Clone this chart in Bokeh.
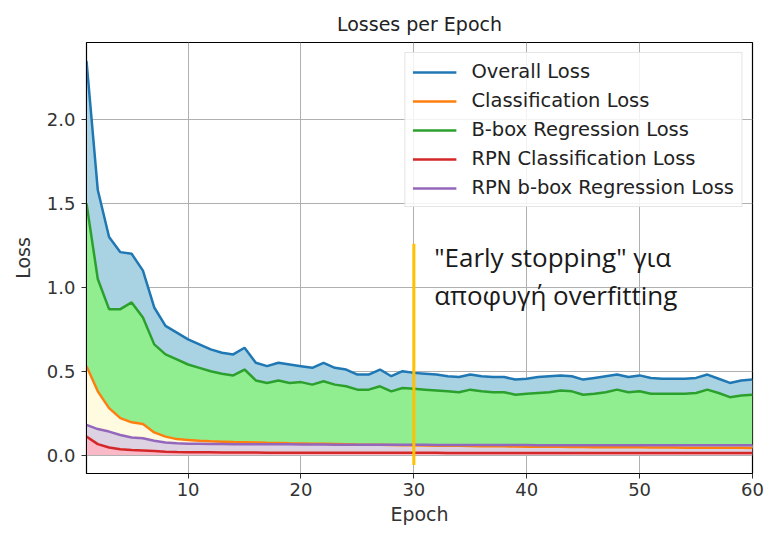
from bokeh.plotting import figure
from bokeh.models import Legend, LegendItem, Label, FixedTicker, Range1d, NumeralTickFormatter
from bokeh.embed import file_html
from bokeh.resources import INLINE

epochs = list(range(1, 61))

overall_loss = [2.35, 1.58, 1.30, 1.21, 1.20, 1.10, 0.88, 0.77, 0.73, 0.69,
                0.66, 0.63, 0.61, 0.60, 0.64, 0.55, 0.53, 0.55, 0.54, 0.53,
                0.52, 0.55, 0.52, 0.51, 0.48, 0.48, 0.51, 0.47, 0.50, 0.49,
                0.485, 0.48, 0.47, 0.465, 0.48, 0.47, 0.465, 0.465, 0.45, 0.455,
                0.465, 0.47, 0.475, 0.47, 0.45, 0.46, 0.47, 0.48, 0.465, 0.475,
                0.46, 0.455, 0.455, 0.455, 0.46, 0.48, 0.455, 0.43, 0.445, 0.45]

bbox_loss = [1.50, 1.05, 0.87, 0.87, 0.91, 0.82, 0.66, 0.60, 0.57, 0.54,
             0.52, 0.50, 0.485, 0.475, 0.51, 0.445, 0.43, 0.445, 0.43, 0.435,
             0.42, 0.44, 0.42, 0.41, 0.39, 0.39, 0.41, 0.38, 0.40, 0.395,
             0.39, 0.385, 0.38, 0.375, 0.39, 0.38, 0.375, 0.375, 0.36, 0.365,
             0.37, 0.375, 0.385, 0.38, 0.36, 0.365, 0.375, 0.39, 0.375, 0.38,
             0.365, 0.365, 0.365, 0.365, 0.37, 0.39, 0.37, 0.345, 0.355, 0.36]

cls_loss = [0.53, 0.38, 0.28, 0.22, 0.195, 0.185, 0.135, 0.11, 0.095, 0.09,
            0.085, 0.082, 0.08, 0.078, 0.077, 0.075, 0.073, 0.072, 0.07, 0.069,
            0.068, 0.067, 0.066, 0.065, 0.063, 0.062, 0.061, 0.06, 0.059, 0.058,
            0.057, 0.056, 0.055, 0.055, 0.054, 0.053, 0.052, 0.052, 0.051, 0.05,
            0.05, 0.049, 0.049, 0.048, 0.048, 0.047, 0.047, 0.046, 0.046, 0.046,
            0.045, 0.045, 0.045, 0.044, 0.044, 0.044, 0.043, 0.043, 0.043, 0.042]

rpn_cls_loss = [0.11, 0.065, 0.045, 0.035, 0.03, 0.027, 0.024, 0.02, 0.018, 0.017,
                0.016, 0.016, 0.015, 0.015, 0.015, 0.015, 0.014, 0.014, 0.014, 0.014,
                0.014, 0.014, 0.013, 0.013, 0.013, 0.013, 0.013, 0.013, 0.013, 0.013,
                0.013, 0.013, 0.012, 0.012, 0.012, 0.012, 0.012, 0.012, 0.012, 0.012,
                0.012, 0.012, 0.012, 0.012, 0.012, 0.012, 0.012, 0.012, 0.012, 0.012,
                0.012, 0.012, 0.012, 0.012, 0.012, 0.012, 0.012, 0.012, 0.012, 0.012]

rpn_bbox_loss = [0.18, 0.155, 0.14, 0.12, 0.105, 0.10, 0.085, 0.075, 0.07, 0.068,
                 0.067, 0.066, 0.066, 0.065, 0.065, 0.065, 0.064, 0.064, 0.064, 0.063,
                 0.063, 0.063, 0.062, 0.062, 0.062, 0.062, 0.061, 0.061, 0.061, 0.061,
                 0.061, 0.06, 0.06, 0.06, 0.06, 0.06, 0.06, 0.06, 0.06, 0.06,
                 0.059, 0.059, 0.059, 0.059, 0.059, 0.059, 0.059, 0.059, 0.059, 0.059,
                 0.058, 0.058, 0.058, 0.058, 0.058, 0.058, 0.058, 0.058, 0.058, 0.058]

zeros = [0.0] * len(epochs)

series_labels = ["Overall Loss", "Classification Loss", "B-box Regression Loss",
                 "RPN Classification Loss", "RPN b-box Regression Loss"]
x_ticks = [10, 20, 30, 40, 50, 60]
y_ticks = [0.0, 0.5, 1.0, 1.5, 2.0]

stop_epoch = 30
stop_span = [-0.06, 1.26]
note_lines = ['"Early stopping" για', "αποφυγή overfitting"]
note_y = [1.182, 0.952]

p = figure(width=773, height=535, output_backend="svg", toolbar_location=None,
           x_range=Range1d(1, 60), y_range=Range1d(-0.11, 2.46),
           min_border_left=86, min_border_right=21, min_border_top=42, min_border_bottom=62)

p.title.text = "Losses per Epoch"
p.title.align = "center"
p.title.text_font = "DejaVu Sans"
p.title.text_font_size = "19px"
p.title.text_font_style = "normal"
p.title.text_color = "#222222"
p.title.standoff = 15

p.outline_line_color = "black"
p.outline_line_width = 1.2
p.background_fill_color = "white"
p.border_fill_color = "white"

for ax in (p.xaxis[0], p.yaxis[0]):
    ax.major_label_text_font = "DejaVu Sans"
    ax.major_label_text_font_size = "18px"
    ax.major_label_text_color = "#333333"
    ax.axis_label_text_font = "DejaVu Sans"
    ax.axis_label_text_font_size = "19px"
    ax.axis_label_text_font_style = "normal"
    ax.axis_label_text_color = "#333333"
    ax.major_tick_in = 0
    ax.major_tick_out = 5
    ax.minor_tick_in = 0
    ax.minor_tick_out = 0
    ax.axis_line_color = "black"
    ax.major_tick_line_color = "#333333"

p.xaxis.axis_label = "Epoch"
p.yaxis.axis_label = "Loss"
p.xaxis.ticker = FixedTicker(ticks=x_ticks)
p.yaxis.ticker = FixedTicker(ticks=y_ticks)
p.yaxis.formatter = NumeralTickFormatter(format="0.0")
p.xaxis.major_label_standoff = 4
p.yaxis.major_label_standoff = 6
p.xaxis.axis_label_standoff = 4
p.yaxis.axis_label_standoff = 10

p.xgrid.ticker = FixedTicker(ticks=x_ticks)
p.ygrid.ticker = FixedTicker(ticks=y_ticks)
p.grid.grid_line_color = "#b0b0b0"
p.grid.grid_line_width = 1

# fills between consecutive curves
p.varea(x=epochs, y1=bbox_loss, y2=overall_loss, fill_color="#a9d3e3")
p.varea(x=epochs, y1=cls_loss, y2=bbox_loss, fill_color="#90ee90")
p.varea(x=epochs, y1=rpn_bbox_loss, y2=cls_loss, fill_color="#fffbe0")
p.varea(x=epochs, y1=rpn_cls_loss, y2=rpn_bbox_loss, fill_color="#dcd2e2")
p.varea(x=epochs, y1=zeros, y2=rpn_cls_loss, fill_color="#f9b9c6")

colors = ["#1f77b4", "#ff7f0e", "#2ca02c", "#d62728", "#9467bd"]
data = [overall_loss, cls_loss, bbox_loss, rpn_cls_loss, rpn_bbox_loss]
renderers = []
for lab, col, ys in zip(series_labels, colors, data):
    r = p.line(epochs, ys, line_color=col, line_width=2.5)
    renderers.append((lab, r))

legend = Legend(items=[LegendItem(label=l, renderers=[r]) for l, r in renderers],
                location="top_right")
legend.label_text_font = "DejaVu Sans"
legend.label_text_font_size = "19.5px"
legend.label_text_color = "#222222"
legend.glyph_width = 44
legend.glyph_height = 20
legend.label_height = 20
legend.label_standoff = 15
legend.spacing = 6
legend.padding = 7
legend.margin = 10
legend.border_line_color = "#cccccc"
legend.border_line_width = 1
legend.background_fill_alpha = 0.85
p.add_layout(legend)

p.segment(x0=[stop_epoch], y0=[stop_span[0]], x1=[stop_epoch], y1=[stop_span[1]],
          line_color="#FFC000", line_width=3)

for t, yy in zip(note_lines, note_y):
    p.add_layout(Label(x=stop_epoch + 1.8, y=yy, text=t, text_font="Open Sans",
                       text_font_size="26px", text_color="#1a1a1a",
                       text_baseline="middle"))

open("out.html", "w").write(file_html(p, INLINE))
